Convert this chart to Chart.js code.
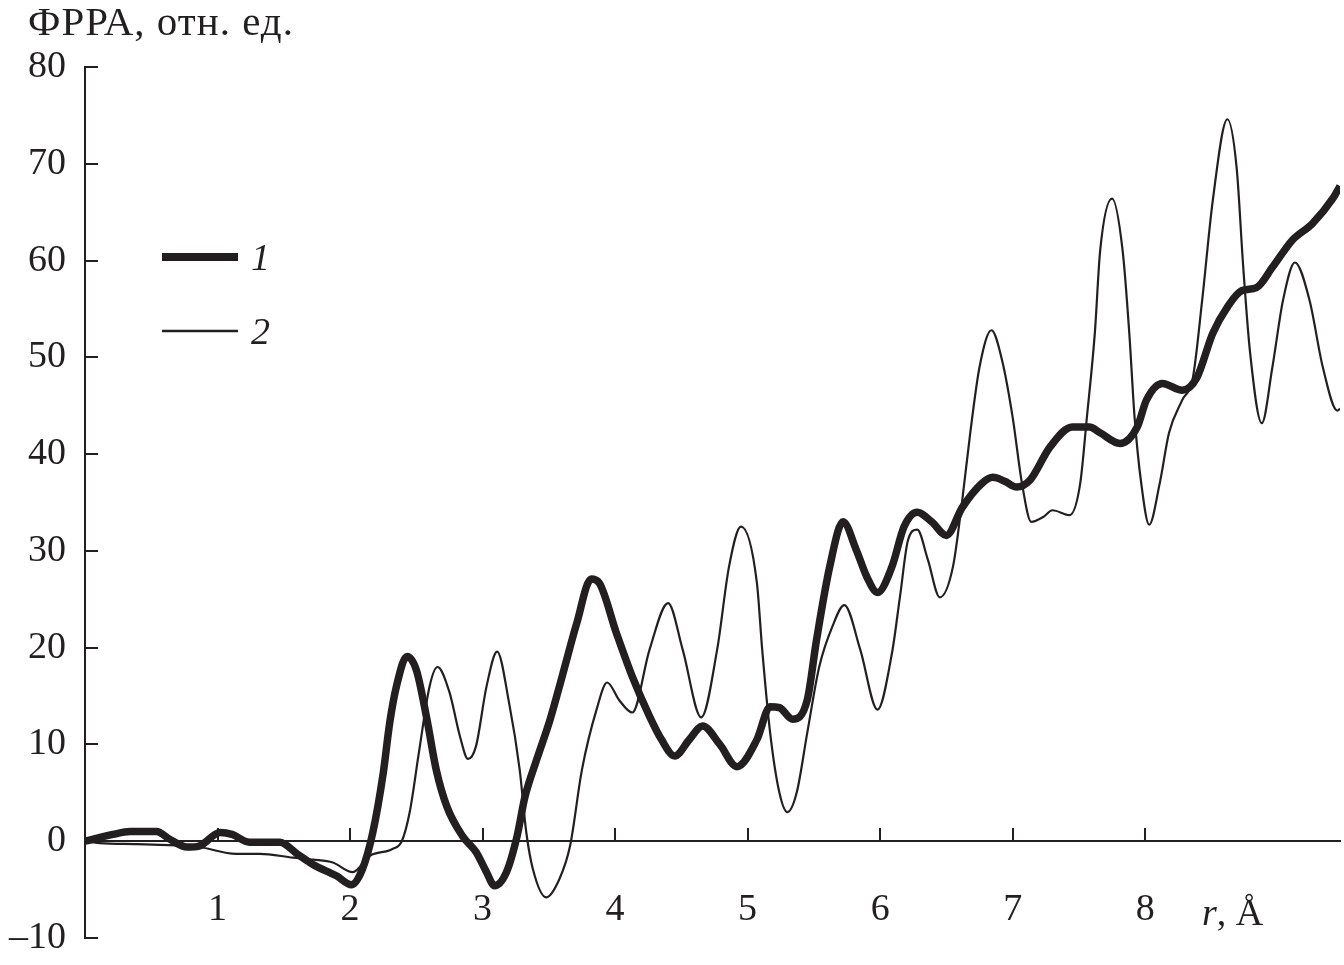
<!DOCTYPE html>
<html>
<head>
<meta charset="utf-8">
<script src="https://cdn.jsdelivr.net/npm/chart.js@4.4.1/dist/chart.umd.min.js"></script>
<style>
  html, body { margin: 0; background: #fff; }
  #wrap { width: 1344px; height: 965px; }
</style>
</head>
<body>
<div id="wrap"><canvas id="rdf" width="1344" height="965"></canvas></div>
<script>
// curve 1 (thick)
const rThick = [0, 0.21, 0.34, 0.54, 0.64, 0.77, 0.86, 1.02, 1.11, 1.24, 1.47, 1.60, 1.72, 1.90, 2.01, 2.09, 2.17, 2.25, 2.30, 2.35, 2.43, 2.50, 2.58, 2.65, 2.73, 2.85, 2.95, 3.03, 3.09, 3.18, 3.26, 3.32, 3.41, 3.51, 3.60, 3.71, 3.82, 3.88, 4.01, 4.13, 4.26, 4.35, 4.45, 4.56, 4.66, 4.79, 4.92, 5.07, 5.17, 5.24, 5.34, 5.45, 5.52, 5.62, 5.72, 5.82, 5.90, 5.98, 6.09, 6.18, 6.28, 6.39, 6.50, 6.62, 6.77, 6.85, 6.94, 7.03, 7.13, 7.28, 7.45, 7.58, 7.66, 7.81, 7.94, 8.01, 8.13, 8.28, 8.39, 8.51, 8.62, 8.73, 8.84, 8.96, 9.11, 9.26, 9.42, 9.47];
const gThick = [0, 0.7, 1.0, 1.0, 0.2, -0.6, -0.5, 0.9, 0.7, -0.1, -0.1, -1.3, -2.4, -3.6, -4.5, -3.0, 0.8, 7.0, 12.3, 16.0, 19.1, 17.7, 12.6, 7.4, 3.6, 0.5, -1.1, -3.2, -4.6, -3.2, 0.5, 4.6, 8.5, 12.6, 17.0, 22.5, 27.1, 26.7, 21.5, 17.0, 12.9, 10.5, 8.8, 10.5, 11.9, 10.0, 7.7, 10.5, 13.9, 13.8, 12.6, 14.6, 20.8, 28.4, 33.0, 30.1, 27.3, 25.7, 28.4, 32.5, 34.0, 33.0, 31.6, 34.5, 37.0, 37.6, 37.2, 36.6, 37.3, 40.7, 42.8, 42.8, 42.2, 41.1, 42.8, 45.6, 47.3, 46.6, 47.9, 52.5, 55.2, 56.9, 57.2, 59.3, 62.1, 63.8, 66.5, 67.7];

// curve 2 (thin)
const rThin = [0, 0.11, 0.39, 0.64, 0.86, 1.14, 1.32, 1.57, 1.72, 1.87, 2.02, 2.15, 2.32, 2.39, 2.45, 2.52, 2.60, 2.66, 2.75, 2.83, 2.89, 2.95, 3.03, 3.11, 3.20, 3.28, 3.33, 3.38, 3.48, 3.58, 3.66, 3.75, 3.86, 3.94, 4.03, 4.13, 4.26, 4.40, 4.51, 4.65, 4.77, 4.86, 4.95, 5.07, 5.11, 5.17, 5.24, 5.30, 5.37, 5.45, 5.54, 5.64, 5.73, 5.85, 5.98, 6.09, 6.15, 6.21, 6.28, 6.36, 6.45, 6.55, 6.62, 6.68, 6.75, 6.84, 6.92, 7.00, 7.07, 7.14, 7.23, 7.30, 7.43, 7.51, 7.56, 7.62, 7.66, 7.75, 7.83, 7.88, 7.92, 7.97, 8.03, 8.11, 8.18, 8.28, 8.36, 8.43, 8.51, 8.62, 8.69, 8.74, 8.79, 8.88, 8.96, 9.04, 9.13, 9.24, 9.34, 9.45, 9.47];
const gThin = [0, -0.2, -0.3, -0.4, -0.6, -1.3, -1.3, -1.7, -1.9, -2.2, -3.2, -1.5, -0.8, 0, 3.0, 9.2, 16.0, 18.0, 15.4, 10.8, 8.5, 9.8, 16.0, 19.6, 14.3, 7.4, 0.9, -2.9, -5.8, -3.9, -0.5, 7.4, 13.6, 16.4, 14.6, 13.3, 19.8, 24.6, 19.8, 12.8, 19.8, 28.4, 32.5, 26.7, 19.8, 11.2, 5.0, 3.0, 5.0, 11.2, 18.0, 22.2, 24.4, 19.8, 13.6, 19.5, 25.3, 31.1, 32.2, 29.1, 25.2, 28.4, 35.3, 42.2, 49.0, 52.8, 49.7, 43.8, 37.0, 33.0, 33.5, 34.2, 33.7, 37.0, 43.8, 52.5, 61.0, 66.4, 61.0, 52.5, 43.8, 37.0, 32.7, 37.0, 42.2, 45.6, 47.9, 55.9, 66.2, 74.6, 69.6, 59.3, 50.7, 43.2, 49.0, 55.9, 59.8, 55.9, 49.0, 44.5, 44.7];

const seriesNames = ["1", "2"];
const xTicks = [1, 2, 3, 4, 5, 6, 7, 8];
const yMin = -10, yMax = 80, yStep = 10;
const xMax = 9.47;
const yTitle = "ФРРА, отн. ед.";

const ink = "#231f20";
const serif = "'Liberation Serif', 'DejaVu Serif', serif";

function toPoints(xs, ys) {
  return xs.map((x, i) => ({ x: x, y: ys[i] }));
}

// axis title, legend lines inside the plot, "r, Å" unit label
const extras = {
  id: "extras",
  afterDraw(chart) {
    const ctx = chart.ctx;
    ctx.save();
    ctx.fillStyle = ink;
    ctx.strokeStyle = ink;
    ctx.textBaseline = "alphabetic";

    ctx.font = "41px " + serif;
    if ("letterSpacing" in ctx) ctx.letterSpacing = "1px";
    ctx.fillText(yTitle, 28, 35);
    if ("letterSpacing" in ctx) ctx.letterSpacing = "0px";

    const rows = [270, 344];
    chart.data.datasets.forEach((ds, i) => {
      const y = rows[i] - 13;
      ctx.lineWidth = i === 0 ? 8 : 2.5;
      ctx.beginPath();
      ctx.moveTo(162, y);
      ctx.lineTo(238, y);
      ctx.stroke();
      ctx.font = "italic 38px " + serif;
      ctx.fillText(ds.label, 251, rows[i]);
    });

    ctx.font = "italic 38px " + serif;
    ctx.fillText("r", 1202, 925);
    const w = ctx.measureText("r").width;
    ctx.font = "38px " + serif;
    ctx.fillText(", Å", 1202 + w, 925);
    ctx.restore();
  }
};

new Chart(document.getElementById("rdf"), {
  type: "line",
  data: {
    datasets: [
      {
        label: seriesNames[0],
        data: toPoints(rThick, gThick),
        borderColor: ink,
        borderWidth: 7.5,
        pointRadius: 0,
        cubicInterpolationMode: "monotone",
        borderJoinStyle: "round",
        fill: false
      },
      {
        label: seriesNames[1],
        data: toPoints(rThin, gThin),
        borderColor: ink,
        borderWidth: 2.2,
        pointRadius: 0,
        cubicInterpolationMode: "monotone",
        borderJoinStyle: "round",
        fill: false
      }
    ]
  },
  options: {
    responsive: false,
    animation: false,
    devicePixelRatio: 1,
    layout: { padding: { left: 0, right: 4, top: 67, bottom: 27 } },
    plugins: {
      legend: { display: false },
      tooltip: { enabled: false },
      title: { display: false }
    },
    scales: {
      x: {
        type: "linear",
        min: 0,
        max: xMax,
        position: { y: 0 },
        afterBuildTicks: (s) => { s.ticks = xTicks.map((v) => ({ value: v })); },
        afterFit: (s) => { s.paddingLeft = 0; s.paddingRight = 0; },
        grid: { drawOnChartArea: false, drawTicks: true, tickLength: -14, color: ink, lineWidth: 2 },
        border: { display: true, color: ink, width: 2 },
        ticks: {
          autoSkip: false,
          maxRotation: 0,
          padding: 60,
          color: ink,
          font: { family: serif, size: 38 }
        }
      },
      y: {
        min: yMin,
        max: yMax,
        position: "left",
        afterFit: (s) => { s.width = 85; s.paddingTop = 0; s.paddingBottom = 0; },
        grid: { drawOnChartArea: false, drawTicks: true, tickLength: -13, color: ink, lineWidth: 2 },
        border: { display: true, color: ink, width: 2 },
        ticks: {
          stepSize: yStep,
          padding: 32,
          color: ink,
          font: { family: serif, size: 38 },
          callback: (v) => (v < 0 ? "\u2013" + Math.abs(v) : String(v))
        }
      }
    }
  },
  plugins: [extras]
});
</script>
</body>
</html>
